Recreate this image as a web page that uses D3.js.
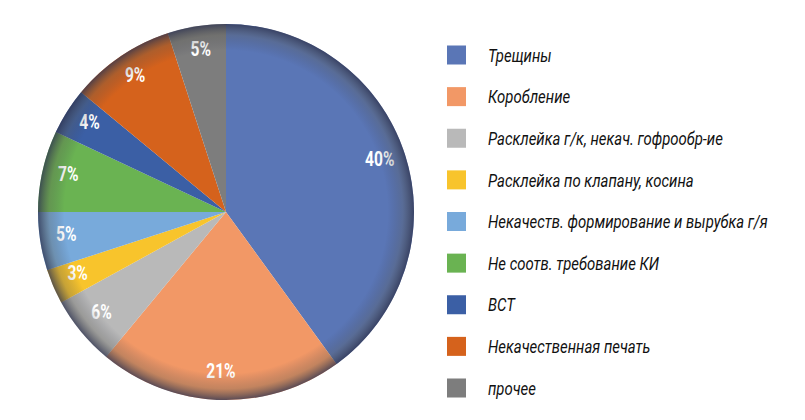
<!DOCTYPE html>
<html lang="ru">
<head>
<meta charset="utf-8">
<title>Дефекты</title>
<script src="https://cdn.jsdelivr.net/npm/d3@7"></script>
<style>
  body { margin: 0; background: #fff; }
  svg { display: block; }
</style>
</head>
<body>
<script>
// data
var categories = ["Трещины", "Коробление", "Расклейка г/к, некач. гофрообр-ие",
  "Расклейка по клапану, косина", "Некачеств. формирование и вырубка г/я",
  "Не соотв. требование КИ", "ВСТ", "Некачественная печать", "прочее"];
var values = [40, 21, 6, 3, 5, 7, 4, 9, 5];
var colors = ["#5a76b6", "#f29866", "#b9b9b9", "#f8c42c", "#78aadb",
  "#6ab352", "#3b5fa5", "#d5621c", "#7d7d7d"];

var width = 805, height = 420;
var cx = 226, cy = 212, r = 188;
var fontFam = "Roboto, 'Noto Sans', sans-serif";

var svg = d3.select("body").append("svg")
  .attr("width", width)
  .attr("height", height);

var defs = svg.append("defs");
var grad = defs.append("radialGradient")
  .attr("id", "rim")
  .attr("gradientUnits", "userSpaceOnUse")
  .attr("cx", cx).attr("cy", cy).attr("r", r);
grad.append("stop").attr("offset", "0.86").attr("stop-color", "#3a3d52").attr("stop-opacity", 0);
grad.append("stop").attr("offset", "0.94").attr("stop-color", "#55554f").attr("stop-opacity", 0.3);
grad.append("stop").attr("offset", "1").attr("stop-color", "#2f3450").attr("stop-opacity", 0.78);

var pie = d3.pie().sort(null).value(function(d) { return d; });
var arcs = pie(values);

var arc = d3.arc().innerRadius(0).outerRadius(r);
var labelArc = d3.arc().innerRadius(r * 0.86).outerRadius(r * 0.86);

var g = svg.append("g").attr("transform", "translate(" + cx + "," + cy + ")");

g.selectAll("path.slice")
  .data(arcs)
  .enter()
  .append("path")
  .attr("class", "slice")
  .attr("d", arc)
  .attr("fill", function(d, i) { return colors[i]; });

// darker rim
svg.append("circle")
  .attr("cx", cx).attr("cy", cy).attr("r", r)
  .attr("fill", "url(#rim)");

g.selectAll("text.lbl")
  .data(arcs)
  .enter()
  .append("text")
  .attr("class", "lbl")
  .attr("transform", function(d) {
    var c = labelArc.centroid(d);
    return "translate(" + c[0] + "," + (c[1] - 3) + ") scale(0.8,1)";
  })
  .attr("text-anchor", "middle")
  .attr("dy", "0.36em")
  .style("font-family", fontFam)
  .style("font-weight", "bold")
  .style("font-size", "19.5px")
  .attr("fill", "#fff")
  .text(function(d) { return d.data + "%"; });

// legend
var ly = d3.scalePoint().domain(d3.range(categories.length)).range([55, 388]);

var legend = svg.append("g").selectAll("g")
  .data(categories)
  .enter()
  .append("g")
  .attr("transform", function(d, i) { return "translate(447," + ly(i) + ")"; });

legend.append("rect")
  .attr("x", 0).attr("y", -9.5)
  .attr("width", 19).attr("height", 19)
  .attr("fill", function(d, i) { return colors[i]; });

var ltext = legend.append("text")
  .attr("dy", "0.36em")
  .style("font-family", fontFam)
  .style("font-style", "italic")
  .style("font-size", "18.5px")
  .attr("fill", "#111")
  .text(function(d) { return d; });

// condensed look: squeeze horizontally so the longest entry spans ~280px
var longest = d3.max(ltext.nodes(), function(n) { return n.getComputedTextLength(); });
var sx = 280 / longest;
ltext.attr("transform", "translate(41,0) scale(" + sx + ",1)");
</script>
</body>
</html>
